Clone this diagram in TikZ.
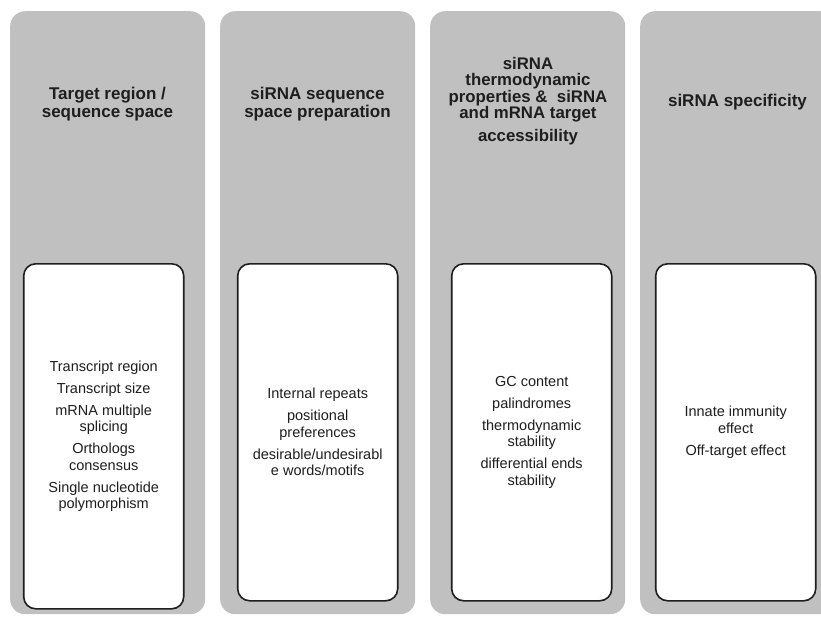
\documentclass[tikz,border=0pt]{standalone}
\usepackage{fontspec}
\setmainfont{Liberation Sans}
\usepackage{xcolor}
\definecolor{ColGray}{HTML}{C0C0C0}
\definecolor{InkDark}{HTML}{1E1E1E}
\usepackage{tikz}
\usetikzlibrary{positioning}

\begin{document}
\begin{tikzpicture}[x=1pt,y=-1pt]
\tikzset{
  column/.style={rounded corners=15pt,fill=ColGray,draw=none,inner sep=0pt,
    minimum width=195pt,minimum height=603pt,anchor=north west},
  heading/.style={align=center,text=InkDark,font=\fontsize{17}{18.5}\selectfont\bfseries},
  itembox/.style={rounded corners=12pt,draw=InkDark,fill=white,line width=1.6pt,
    minimum width=160pt,anchor=north,align=center,text=InkDark,
    font=\fontsize{14.5}{16.5}\selectfont,inner sep=2pt}
}
\clip (0,0) rectangle (821,616);
\fill[white] (0,0) rectangle (821,616);

% Four gray columns, the last one runs off the right edge
\node[column] (c1) at (10,11) {};
\node[column] (c2) at (220,11) {};
\node[column] (c3) at (430,11) {};
\node[column] (c4) at (640,11) {};

% Column headings
\node[heading] (t1) at (107.5,104) {Target region /\\sequence space};
\node[heading] (t2) at (317.5,104) {siRNA sequence\\space preparation};
\node[heading,font=\fontsize{16.8}{16.5}\selectfont\bfseries] (t3) at (528,101)
  {siRNA\\thermodynamic\\properties \&\ \ siRNA\\and mRNA target\\[6pt]accessibility};
\node[heading] (t4) at (737.5,102) {siRNA specificity};

% White boxes with the criteria of each step
\node[itembox,minimum height=345pt] (b1) at ([xshift=-4pt,yshift=-252pt]c1.north)
  {Transcript region\\[5.5pt]Transcript size\\[5.5pt]mRNA multiple\\splicing\\[5.5pt]Orthologs\\consensus\\[5.5pt]Single nucleotide\\polymorphism};
\node[itembox,minimum height=337pt] (b2) at ([yshift=-252pt]c2.north)
  {Internal repeats\\[5.5pt]positional\\preferences\\[5.5pt]desirable/undesirabl\\e words/motifs};
\node[itembox,minimum height=337pt] (b3) at ([xshift=4pt,yshift=-252pt]c3.north)
  {GC content\\[5.5pt]palindromes\\[5.5pt]thermodynamic\\stability\\[5.5pt]differential ends\\stability};
\node[itembox,minimum height=337pt] (b4) at ([xshift=-2pt,yshift=-252pt]c4.north)
  {Innate immunity\\effect\\[5.5pt]Off-target effect};
\end{tikzpicture}
\end{document}
